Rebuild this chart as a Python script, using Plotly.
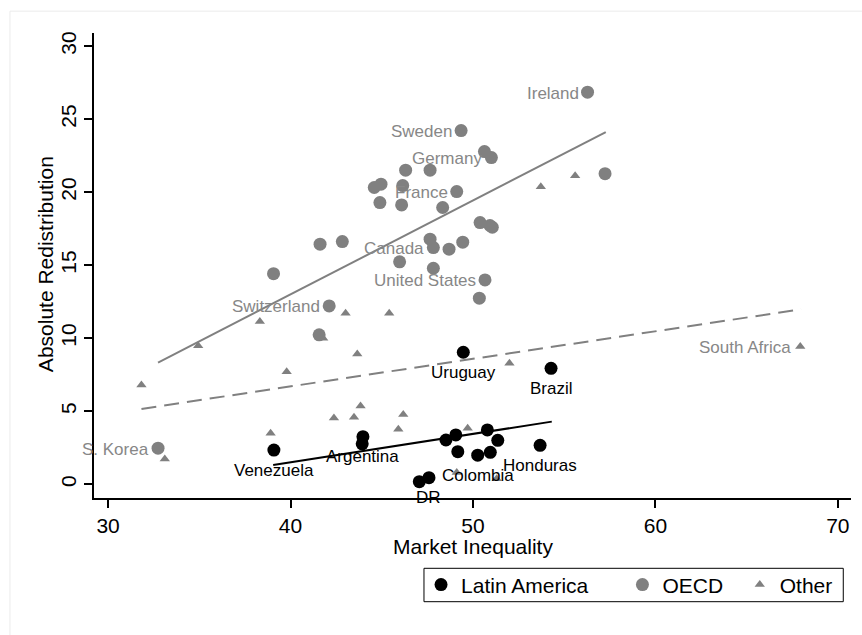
import plotly.graph_objects as go

# Latin America
la_x = [39.09, 43.97, 43.93, 47.06, 47.59, 48.52, 49.06, 49.17, 50.26, 50.95, 50.79, 51.36, 53.68, 49.47, 54.28]
la_y = [2.34, 3.26, 2.77, 0.18, 0.45, 3.03, 3.38, 2.23, 1.99, 2.19, 3.72, 3.01, 2.67, 9.04, 7.94]
la_lab = ["Venezuela", "Argentina", "", "", "DR", "", "", "", "Colombia", "", "", "", "Honduras", "Uruguay", "Brazil"]

# OECD
oecd_x = [56.28, 49.35, 50.63, 51.01, 46.31, 47.65, 44.59, 44.96, 46.15, 49.11, 44.90, 46.09, 48.34,
          50.39, 51.06, 50.93, 47.65, 47.83, 48.69, 49.44, 42.84, 41.62, 45.98, 47.83, 50.66, 50.35,
          39.07, 42.12, 41.57, 32.74, 57.24]
oecd_y = [26.85, 24.22, 22.78, 22.37, 21.51, 21.51, 20.32, 20.55, 20.45, 20.04, 19.29, 19.13, 18.95,
          17.92, 17.60, 17.72, 16.78, 16.21, 16.10, 16.58, 16.62, 16.44, 15.23, 14.79, 13.99, 12.74,
          14.42, 12.21, 10.23, 2.47, 21.27]
oecd_lab = ["Ireland", "Sweden", "", "Germany", "", "", "", "", "", "France", "", "", "",
            "", "", "", "", "Canada", "", "", "", "", "", "", "United States", "",
            "", "Switzerland", "", "S. Korea", ""]

# Other
oth_x = [31.83, 34.94, 38.32, 43.02, 45.41, 39.79, 43.66, 38.91, 33.11, 42.38, 43.48, 43.84, 46.18,
         45.91, 52.00, 67.94, 53.72, 55.60, 49.71, 49.11, 51.30, 41.79]
oth_y = [6.80, 9.49, 11.14, 11.71, 11.71, 7.71, 8.92, 3.49, 1.73, 4.54, 4.59, 5.36, 4.77,
         3.77, 8.29, 9.43, 20.38, 21.12, 3.84, 0.80, 0.38, 10.00]
oth_lab = ["", "", "", "", "", "", "", "", "", "", "", "", "",
           "", "", "South Africa", "", "", "", "", "", ""]

# Linear fit lines (endpoints span each group's range)
la_fit_x, la_fit_y = [39.05, 54.32], [1.32, 4.29]
oecd_fit_x, oecd_fit_y = [32.74, 57.28], [8.33, 24.11]
oth_fit_x, oth_fit_y = [31.83, 67.98], [5.16, 11.98]

GRAY = "#808080"
TEXT_GRAY = "#878787"
FONT = "Liberation Sans, Arial, Helvetica, sans-serif"
NB = "\u00a0"

fig = go.Figure()

fig.add_trace(go.Scatter(
    x=la_x, y=la_y, mode="markers", name="Latin America" + NB * 5,
    marker=dict(symbol="circle", size=13, color="black"),
))
fig.add_trace(go.Scatter(
    x=oecd_x, y=oecd_y, mode="markers", name="OECD" + NB * 2,
    marker=dict(symbol="circle", size=13, color=GRAY),
))
fig.add_trace(go.Scatter(
    x=oth_x, y=oth_y, mode="markers", name="Other",
    marker=dict(symbol="triangle-up", size=9, color=GRAY),
))

fig.add_trace(go.Scatter(x=la_fit_x, y=la_fit_y, mode="lines", showlegend=False,
                         line=dict(color="black", width=2)))
fig.add_trace(go.Scatter(x=oecd_fit_x, y=oecd_fit_y, mode="lines", showlegend=False,
                         line=dict(color=GRAY, width=2)))
fig.add_trace(go.Scatter(x=oth_fit_x, y=oth_fit_y, mode="lines", showlegend=False,
                         line=dict(color=GRAY, width=2, dash="15px,8px")))

# Country labels: Latin America below the marker, others to its left
annotations = []
for x, y, t in zip(la_x, la_y, la_lab):
    if t:
        annotations.append(dict(x=x, y=y, text=t, showarrow=False, xanchor="center", yanchor="middle",
                                yshift=-20, font=dict(family=FONT, size=17, color="black")))
for xs, ys, labs in ((oecd_x, oecd_y, oecd_lab), (oth_x, oth_y, oth_lab)):
    for x, y, t in zip(xs, ys, labs):
        if t:
            annotations.append(dict(x=x, y=y, text=t, showarrow=False, xanchor="right", yanchor="middle",
                                    xshift=-7, yshift=-1, font=dict(family=FONT, size=17, color=TEXT_GRAY)))

# Axis titles
annotations.append(dict(xref="paper", yref="paper", x=-0.0647, y=0.503, text="Absolute Redistribution",
                        textangle=-90, showarrow=False, xanchor="center", yanchor="middle",
                        font=dict(family=FONT, size=21, color="black")))
annotations.append(dict(xref="paper", yref="paper", x=0.5, y=-0.105, text="Market Inequality",
                        showarrow=False, xanchor="center", yanchor="middle", borderpad=0,
                        font=dict(family=FONT, size=21, color="black")))

axis_common = dict(
    showline=True, linecolor="black", linewidth=1.5, mirror=False,
    ticks="outside", ticklen=8, tickwidth=1.5, tickcolor="black",
    showgrid=False, zeroline=False,
    tickfont=dict(family=FONT, size=21, color="black"),
)

fig.update_layout(
    width=862, height=635,
    margin=dict(l=94, r=11, t=33, b=137),
    paper_bgcolor="white", plot_bgcolor="white",
    font=dict(family=FONT, color="black"),
    xaxis=dict(range=[29.23, 70.72], tickvals=[30, 40, 50, 60, 70], **axis_common),
    yaxis=dict(range=[-0.94, 30.9], tickvals=[0, 5, 10, 15, 20, 25, 30], tickangle=-90, **axis_common),
    legend=dict(orientation="h", x=0.432, xanchor="left", y=-0.187, yanchor="middle",
                borderwidth=0, bgcolor="rgba(0,0,0,0)",
                font=dict(family=FONT, size=21, color="black"),
                itemwidth=30),
    annotations=annotations,
    shapes=[
        dict(type="line", xref="paper", yref="paper", x0=-0.111, x1=1.02, y0=1.047, y1=1.047,
             line=dict(color="#ebebeb", width=1), layer="below"),
        dict(type="line", xref="paper", yref="paper", x0=-0.111, x1=-0.111, y0=1.047, y1=-0.3,
             line=dict(color="#ebebeb", width=1), layer="below"),
        # legend frame
        dict(type="rect", xref="paper", yref="paper", x0=0.4359, x1=0.9898, y0=-0.1512, y1=-0.2230,
             line=dict(color="black", width=1), fillcolor="rgba(0,0,0,0)"),
    ],
)

fig.write_html("out.html")
